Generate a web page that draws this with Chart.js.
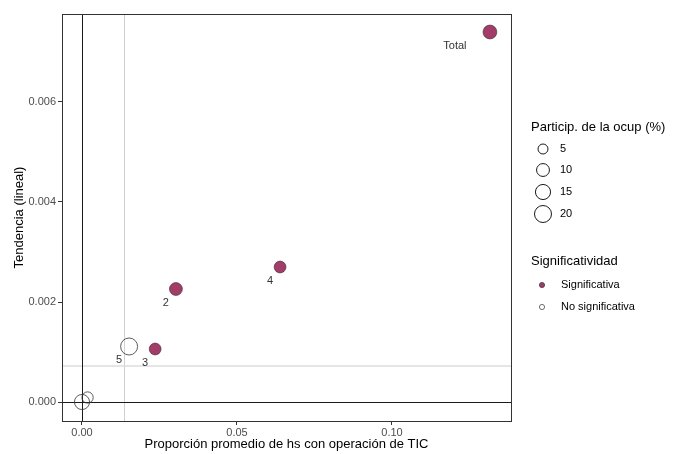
<!DOCTYPE html>
<html>
<head>
<meta charset="utf-8">
<script src="https://cdn.jsdelivr.net/npm/chart.js@4/dist/chart.umd.min.js"></script>
<style>
  html, body { margin: 0; padding: 0; background: #ffffff; }
  #wrap { width: 673px; height: 454px; position: relative; }
</style>
</head>
<body>
<div id="wrap"><canvas id="chart" width="673" height="454"></canvas></div>
<script>
// Occupational groups: share of hours with ICT operation vs linear trend
const groupLabels   = ["", "", "5", "3", "2", "4", "Total"];
const shareTIC      = [0.0000, 0.0018, 0.0152, 0.0236, 0.0303, 0.0639, 0.1316];
const trendLinear   = [0.00000, 0.00009, 0.00111, 0.00106, 0.00226, 0.00270, 0.00740];
const participation = [15, 7, 20, 8, 10, 8, 12];
const significant   = [false, false, false, true, true, true, true];

// Reference lines (medians) and axis ticks
const refLineX = [0.0135];
const refLineY = [0.00072];
const xTicks = [0, 0.05, 0.10];
const yTicks = [0, 0.002, 0.004, 0.006];
const sizeBreaks = [5, 10, 15, 20];
const sigLabels = ["Significativa", "No significativa"];

const FILL = '#A23C68';
const FONT = "'Liberation Sans', Arial, sans-serif";

function radiusFor(v) { return 1.5 + 1.565 * Math.sqrt(v); }

function buildSet(flag) {
  const pts = [], radii = [], names = [];
  shareTIC.forEach((x, i) => {
    if (significant[i] === flag) {
      pts.push({ x: x, y: trendLinear[i] });
      radii.push(radiusFor(participation[i]));
      names.push(groupLabels[i]);
    }
  });
  return { pts, radii, names };
}
const sig = buildSet(true);
const nsig = buildSet(false);

const panelPlugin = {
  id: 'panel',
  beforeDatasetsDraw(chart) {
    const { ctx, chartArea: a, scales: { x, y } } = chart;
    ctx.save();
    // median reference lines
    ctx.lineWidth = 1;
    ctx.strokeStyle = '#D0D0D0';
    refLineX.forEach(v => {
      const px = Math.round(x.getPixelForValue(v)) + 0.5;
      ctx.beginPath(); ctx.moveTo(px, a.top); ctx.lineTo(px, a.bottom); ctx.stroke();
    });
    ctx.strokeStyle = '#DDDDDD';
    ctx.lineWidth = 1.5;
    refLineY.forEach(v => {
      const py = y.getPixelForValue(v);
      ctx.beginPath(); ctx.moveTo(a.left, py); ctx.lineTo(a.right, py); ctx.stroke();
    });
    // zero lines
    ctx.strokeStyle = '#1a1a1a';
    ctx.lineWidth = 1;
    const x0 = Math.round(x.getPixelForValue(0)) + 0.5;
    const y0 = Math.round(y.getPixelForValue(0)) + 0.5;
    ctx.beginPath(); ctx.moveTo(x0, a.top); ctx.lineTo(x0, a.bottom); ctx.stroke();
    ctx.beginPath(); ctx.moveTo(a.left, y0); ctx.lineTo(a.right, y0); ctx.stroke();
    ctx.restore();
  },
  afterDatasetsDraw(chart) {
    const { ctx, chartArea: a } = chart;
    ctx.save();
    // point labels
    ctx.font = '11px ' + FONT;
    ctx.fillStyle = '#333333';
    ctx.textAlign = 'center';
    ctx.textBaseline = 'middle';
    chart.data.datasets.forEach((ds, di) => {
      const meta = chart.getDatasetMeta(di);
      meta.data.forEach((el, i) => {
        const name = ds.names[i];
        if (!name) return;
        const dx = name === 'Total' ? -35 : -10;
        ctx.fillText(name, el.x + dx, el.y + 13.5);
      });
    });
    // panel border
    ctx.strokeStyle = '#333333';
    ctx.lineWidth = 1;
    ctx.strokeRect(Math.round(a.left) + 0.5, Math.round(a.top) + 0.5,
                   Math.round(a.right - a.left), Math.round(a.bottom - a.top));
    // legends
    const lx = 531;
    ctx.textAlign = 'left';
    ctx.fillStyle = '#000000';
    ctx.font = '13px ' + FONT;
    ctx.fillText('Particip. de la ocup (%)', lx, 127);
    ctx.font = '11px ' + FONT;
    const sizeY = [149, 170, 192, 214];
    sizeBreaks.forEach((b, i) => {
      ctx.beginPath();
      ctx.arc(543, sizeY[i], radiusFor(b), 0, Math.PI * 2);
      ctx.strokeStyle = '#1a1a1a';
      ctx.lineWidth = 1;
      ctx.stroke();
      ctx.fillStyle = '#000000';
      ctx.fillText(String(b), 560, sizeY[i]);
    });
    ctx.font = '13px ' + FONT;
    ctx.fillText('Significatividad', lx, 261);
    ctx.font = '11px ' + FONT;
    const sigY = [285, 307];
    sigLabels.forEach((t, i) => {
      ctx.beginPath();
      ctx.arc(542, sigY[i], 2.6, 0, Math.PI * 2);
      ctx.fillStyle = i === 0 ? FILL : '#ffffff';
      ctx.fill();
      ctx.strokeStyle = '#333333';
      ctx.lineWidth = 0.7;
      ctx.stroke();
      ctx.fillStyle = '#000000';
      ctx.fillText(t, 561, sigY[i]);
    });
    ctx.restore();
  }
};

new Chart(document.getElementById('chart'), {
  type: 'scatter',
  data: {
    datasets: [
      {
        label: sigLabels[1],
        names: nsig.names,
        data: nsig.pts,
        pointRadius: nsig.radii,
        pointHoverRadius: nsig.radii,
        backgroundColor: 'rgba(255,255,255,0)',
        borderColor: '#333333',
        borderWidth: 0.8
      },
      {
        label: sigLabels[0],
        names: sig.names,
        data: sig.pts,
        pointRadius: sig.radii,
        pointHoverRadius: sig.radii,
        backgroundColor: FILL,
        borderColor: '#3a2a30',
        borderWidth: 0.6
      }
    ]
  },
  options: {
    responsive: false,
    animation: false,
    events: [],
    layout: { padding: { top: 14, right: 162, left: 0, bottom: 0 } },
    plugins: { legend: { display: false }, tooltip: { enabled: false } },
    scales: {
      x: {
        type: 'linear',
        min: -0.00645,
        max: 0.1384,
        afterFit(s) { s.height = 33; },
        afterBuildTicks(s) { s.ticks = xTicks.map(v => ({ value: v })); },
        grid: { display: true, drawOnChartArea: false, drawTicks: true, tickLength: 4, color: '#333333' },
        border: { display: true, color: '#333333' },
        ticks: {
          color: '#4D4D4D', font: { family: FONT, size: 11 }, padding: 1,
          maxRotation: 0, autoSkip: false,
          callback: v => v.toFixed(2)
        },
        title: {
          display: true, text: 'Proporción promedio de hs con operación de TIC',
          color: '#000000', font: { family: FONT, size: 13 }, padding: { top: 0, bottom: 2 }
        }
      },
      y: {
        type: 'linear',
        min: -0.00038,
        max: 0.00776,
        afterFit(s) { s.width = 62; },
        afterBuildTicks(s) { s.ticks = yTicks.map(v => ({ value: v })); },
        grid: { display: true, drawOnChartArea: false, drawTicks: true, tickLength: 4, color: '#333333' },
        border: { display: true, color: '#333333' },
        ticks: {
          color: '#4D4D4D', font: { family: FONT, size: 11 }, padding: 2,
          autoSkip: false,
          callback: v => v.toFixed(3)
        },
        title: {
          display: true, text: 'Tendencia (lineal)',
          color: '#000000', font: { family: FONT, size: 13 }, padding: { top: 12, bottom: 0 }
        }
      }
    }
  },
  plugins: [panelPlugin]
});
</script>
</body>
</html>
